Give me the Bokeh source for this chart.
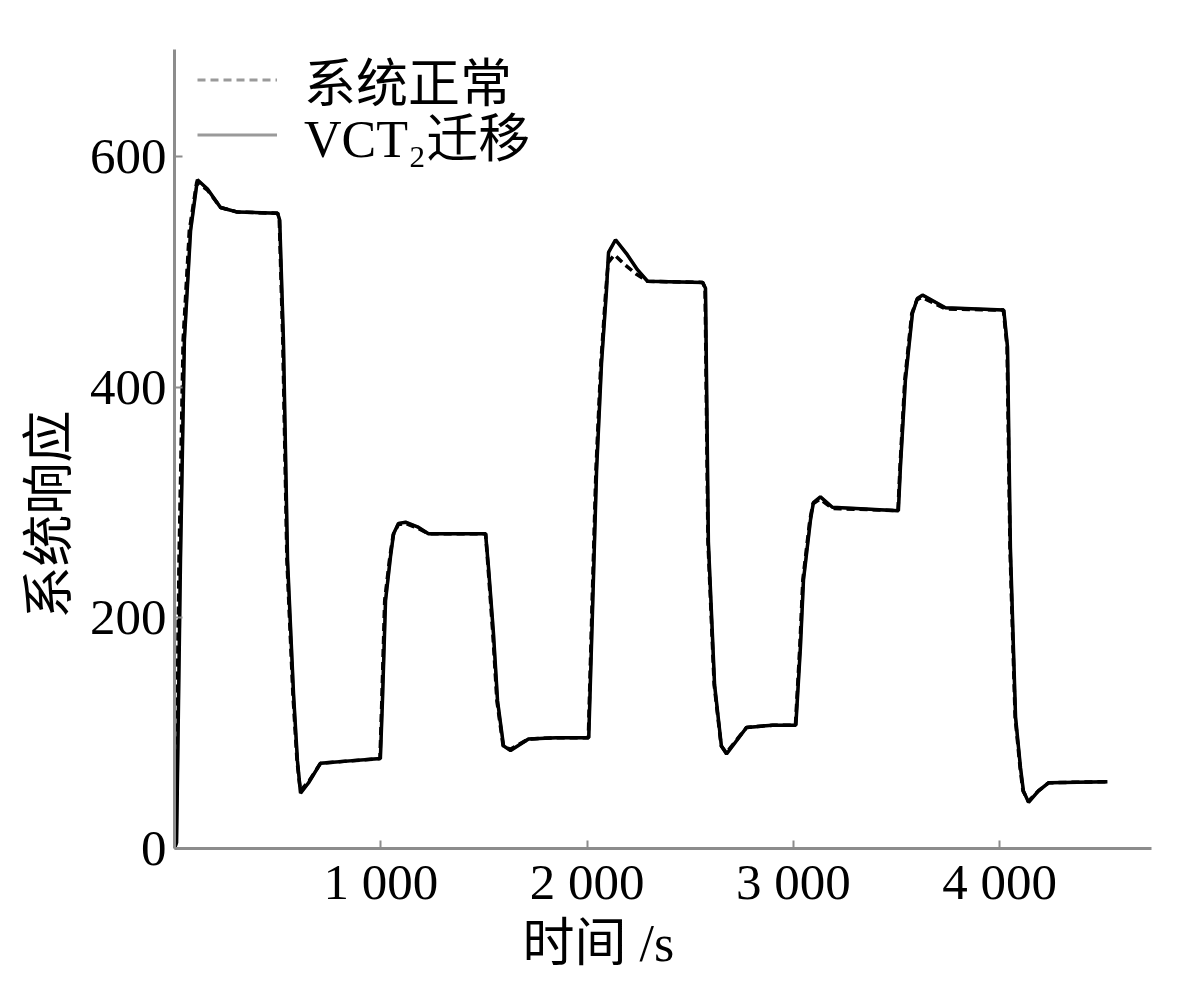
from bokeh.plotting import figure
from bokeh.models import Range1d, FixedTicker, Legend, LegendItem, Title
from bokeh.embed import file_html
from bokeh.resources import INLINE

# ---- data ----
x_ticks = [1000, 2000, 3000, 4000]
x_tick_labels = ["1 000", "2 000", "3 000", "4 000"]
y_ticks = [0, 200, 400, 600]
y_tick_labels = ["0", "200", "400", "600"]

legend_labels = ["系统正常", "VCT₂迁移"]
x_label = "时间 /s"
y_label = "系统响应"

# VCT2 migration (solid)
t_vct = [0, 10, 29, 48, 78, 111, 160, 223, 305, 500,
         510, 528, 548, 577, 596, 611, 650, 708, 850, 998,
         1008, 1023, 1047, 1062, 1086, 1120, 1178, 1231, 1508, 1522,
         1546, 1566, 1595, 1629, 1716, 1850, 2008,
         2026, 2046, 2070, 2094, 2104, 2138, 2191, 2244, 2293, 2560,
         2574, 2588, 2618, 2651, 2676, 2773, 2900, 3012,
         3034, 3049, 3083, 3097, 3131, 3189, 3509, 3519, 3543, 3577,
         3601, 3626, 3737, 4020, 4038, 4052, 4067, 4077, 4101, 4115,
         4140, 4188, 4237, 4522]
y_vct = [0, 5, 250, 441, 536, 580, 572, 556, 552, 551,
         545, 441, 250, 134, 76, 48, 57, 74, 76, 78,
         128, 215, 253, 273, 282, 283, 279, 273, 273, 244,
         187, 128, 89, 85, 95, 96, 96,
         204, 328, 421, 484, 517, 528, 516, 502, 492, 491,
         486, 266, 142, 89, 82, 105, 107, 107,
         174, 233, 285, 300, 305, 296, 293, 331, 406, 464,
         477, 480, 469, 467, 435, 261, 172, 114, 70, 50,
         40, 50, 57, 58]

# system normal (dashed)
t_normal = [0, 5, 22, 42, 72, 108, 160, 223, 305, 500,
            508, 525, 545, 574, 594, 610, 650, 708, 850, 996,
            1005, 1019, 1044, 1060, 1085, 1118, 1178, 1231, 1508, 1520,
            1543, 1563, 1593, 1628, 1716, 1850, 2006,
            2023, 2043, 2067, 2091, 2102, 2132, 2185, 2240, 2293, 2560,
            2572, 2586, 2616, 2650, 2675, 2773, 2900, 3010,
            3031, 3046, 3080, 3095, 3129, 3189, 3507, 3517, 3540, 3574,
            3599, 3624, 3737, 4018, 4036, 4050, 4065, 4075, 4099, 4113,
            4139, 4188, 4237, 4522]
y_normal = [0, 5, 250, 441, 536, 578, 571, 556, 552, 551,
            545, 441, 250, 134, 76, 50, 58, 74, 76, 78,
            128, 215, 253, 272, 281, 282, 278, 273, 273, 244,
            187, 128, 89, 86, 95, 96, 96,
            204, 328, 421, 484, 508, 515, 506, 498, 492, 491,
            486, 266, 142, 89, 83, 105, 107, 107,
            174, 233, 285, 299, 303, 295, 293, 331, 406, 464,
            476, 478, 468, 467, 435, 261, 172, 114, 70, 50,
            41, 50, 57, 58]

FONT = "Liberation Serif, Noto Sans CJK SC"
AXIS_GRAY = "#8c8c8c"
LEGEND_GRAY = "#9a9a9a"

p = figure(frame_width=977, frame_height=799,
           x_range=Range1d(0, 4736), y_range=Range1d(0, 693),
           output_backend="svg", toolbar_location=None,
           min_border_left=174, min_border_right=41,
           min_border_top=49, min_border_bottom=145)

p.xgrid.visible = False
p.ygrid.visible = False
p.outline_line_color = None
p.background_fill_color = "white"
p.border_fill_color = "white"

for ax, ticks, labels in ((p.xaxis, x_ticks, x_tick_labels), (p.yaxis, y_ticks, y_tick_labels)):
    ax.ticker = FixedTicker(ticks=ticks)
    ax.major_label_overrides = dict(zip(ticks, labels))
    ax.axis_line_color = AXIS_GRAY
    ax.axis_line_width = 3
    ax.major_tick_line_color = AXIS_GRAY
    ax.major_tick_line_width = 2
    ax.major_tick_in = 8
    ax.major_tick_out = 0
    ax.minor_tick_line_color = None
    ax.major_label_text_font = FONT
    ax.major_label_text_font_size = "51px"
    ax.major_label_text_color = "black"

p.xaxis.major_label_standoff = 5
p.yaxis.major_label_standoff = 8

# gray copies used only for the legend samples (hidden under the black curves)
r_leg_normal = p.line(t_normal, y_normal, line_color=LEGEND_GRAY, line_width=3, line_dash="8 5")
r_leg_vct = p.line(t_vct, y_vct, line_color=LEGEND_GRAY, line_width=3)

# main curves
p.line(t_normal, y_normal, line_color="black", line_width=3.5, line_dash="8 5")
p.line(t_vct, y_vct, line_color="black", line_width=3.5)

leg_style = dict(padding=0, margin=0, spacing=0,
                 glyph_width=80, glyph_height=55, label_height=55,
                 label_standoff=27, label_text_font=FONT,
                 label_text_font_size="52px", label_text_color="black",
                 background_fill_alpha=0, border_line_color=None)
legend1 = Legend(items=[LegendItem(label=legend_labels[0], renderers=[r_leg_normal])],
                 location=(23, 731), **leg_style)
legend2 = Legend(items=[LegendItem(label=legend_labels[1], renderers=[r_leg_vct])],
                 location=(23, 676), **leg_style)
p.add_layout(legend1, "center")
p.add_layout(legend2, "center")

p.add_layout(Title(text=x_label, align="left", offset=348, text_font=FONT,
                   text_font_size="52px", text_font_style="normal",
                   text_color="black", standoff=0), "below")
p.add_layout(Title(text=y_label, align="left", offset=230, text_font=FONT,
                   text_font_size="52px", text_font_style="normal",
                   text_color="black", standoff=18), "left")

open("out.html", "w").write(file_html(p, INLINE))
